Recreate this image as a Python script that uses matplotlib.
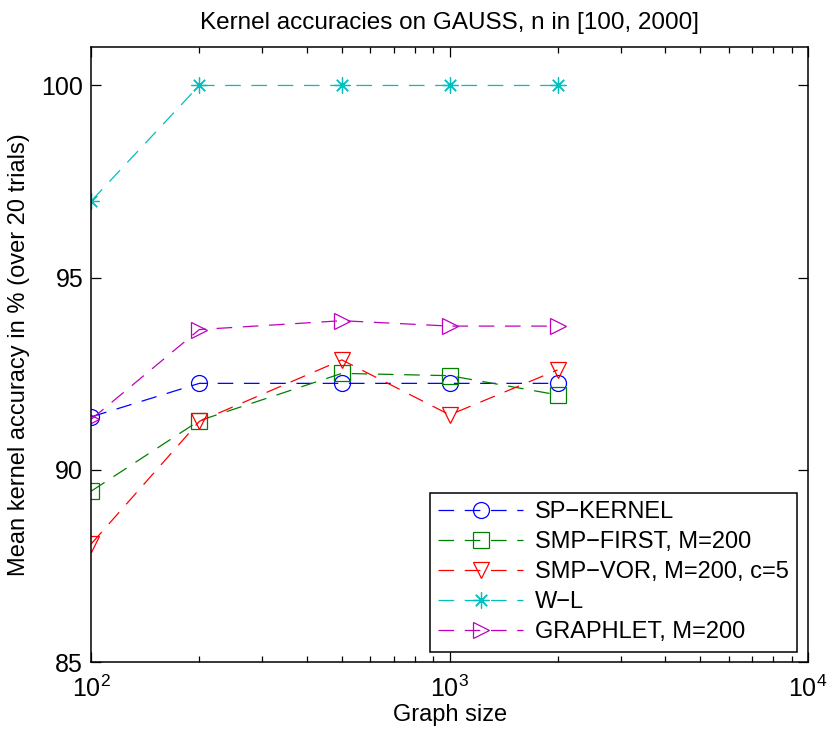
import matplotlib
matplotlib.use("Agg")
import matplotlib.pyplot as plt
from matplotlib.ticker import LogLocator, NullFormatter

plt.rcParams['font.family'] = ['Liberation Sans', 'DejaVu Sans']
plt.rcParams['mathtext.fontset'] = 'custom'
plt.rcParams['mathtext.rm'] = 'Liberation Sans'
plt.rcParams['mathtext.it'] = 'Liberation Sans'

# graph sizes
sizes = [100, 200, 500, 1000, 2000]

# mean accuracies per kernel
sp_kernel = [91.38, 92.25, 92.25, 92.25, 92.25]
smp_first = [89.45, 91.28, 92.51, 92.45, 91.95]
smp_vor = [88.08, 91.26, 92.86, 91.43, 92.60]
wl = [97.0, 100.0, 100.0, 100.0, 100.0]
graphlet = [91.32, 93.65, 93.88, 93.74, 93.74]

labels = ["SP\u2212KERNEL", "SMP\u2212FIRST, M=200", "SMP\u2212VOR, M=200, c=5",
          "W\u2212L", "GRAPHLET, M=200"]

asterisk = (8, 2, 0)
series = [
    (sp_kernel, (0, 0, 1), 'o'),
    (smp_first, (0, 0.5, 0), 's'),
    (smp_vor, (1, 0, 0), 'v'),
    (wl, (0, 0.75, 0.75), asterisk),
    (graphlet, (0.75, 0, 0.75), '>'),
]

fig = plt.figure(figsize=(8.27, 7.36), dpi=100)
ax = fig.add_axes([0.1106, 0.1005, 0.8664, 0.8356])

for (vals, col, mk), lab in zip(series, labels):
    ax.plot(sizes, vals, linestyle=(0, (12.5, 8.5)), color=col, linewidth=0.9,
            marker=mk, markersize=11.5, markerfacecolor='none',
            markeredgecolor=col, markeredgewidth=0.9, label=lab)

ax.set_xscale('log')
ax.set_xlim(100, 10000)
ax.set_ylim(85, 101)
ax.set_yticks([85, 90, 95, 100])
ax.xaxis.set_minor_locator(LogLocator(base=10, subs=range(2, 10)))
ax.xaxis.set_minor_formatter(NullFormatter())

ax.tick_params(which='both', direction='in', top=True, right=True,
               labelsize=18, width=0.9)
ax.tick_params(which='major', length=7)
ax.tick_params(which='minor', length=4)
ax.tick_params(axis='x', pad=10)
ax.tick_params(axis='y', pad=6)
for sp in ax.spines.values():
    sp.set_linewidth(1.1)

ax.set_title("Kernel accuracies on GAUSS, n in [100, 2000]", fontsize=17.5, pad=13)
ax.set_xlabel("Graph size", fontsize=17, labelpad=1)
ax.set_ylabel("Mean kernel accuracy in % (over 20 trials)", fontsize=17, labelpad=8)

leg = ax.legend(loc='lower right', bbox_to_anchor=(0.985, 0.017), fontsize=17,
                frameon=True, fancybox=False, edgecolor='black', framealpha=1,
                handlelength=3.6, borderpad=0.35, labelspacing=0.34,
                handletextpad=0.5, borderaxespad=0)
leg.get_frame().set_linewidth(1.1)

fig.savefig("out.png", dpi=100)
